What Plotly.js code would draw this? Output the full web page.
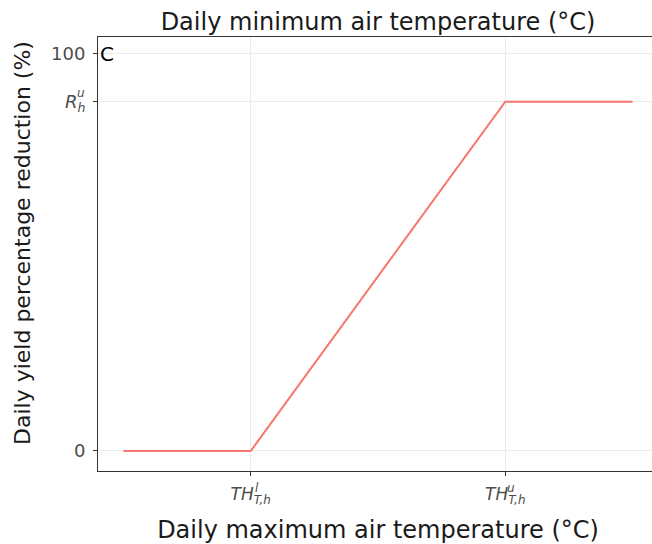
<!DOCTYPE html>
<html>
<head>
<meta charset="utf-8">
<script src="https://cdn.plot.ly/plotly-3.0.1.min.js"></script>
<style>
html,body{margin:0;padding:0;overflow:hidden;background:#fff;}
#chart{width:662px;height:544px;}
</style>
</head>
<body>
<div id="chart"></div>
<script>
// ---- data ----
var tempMax = [5, 10, 20, 25];          // daily maximum air temperature (arbitrary units)
var yieldReduction = [0, 0, 88, 88];    // daily yield percentage reduction (%)
var xTickVals = [10, 20];
var xTickBase = ["TH", "TH"];
var xTickSub = ["T,h", "T,h"];
var xTickSup = ["l", "u"];
var yTickVals = [0, 88, 100];
var yTickBase = ["0", "R", "100"];
var yTickSub = ["", "h", ""];
var yTickSup = ["", "u", ""];
var panelLabel = "C";
var xTitle = "Daily maximum air temperature (°C)";
var yTitle = "Daily yield percentage reduction (%)";
var topTitle = "Daily minimum air temperature (°C)";

var tickColor = "#4d4d4d";
var font = "DejaVu Sans";

var xTickText = xTickBase.map(function (b, i) { return "<i>" + b + "<sub>" + xTickSub[i] + "</sub></i>"; });
var yTickText = yTickBase.map(function (b, i) { return yTickSub[i] ? "<i>" + b + "<sub>" + yTickSub[i] + "</sub></i>" : b; });

var annotations = [];
xTickVals.forEach(function (v, i) {
  annotations.push({
    x: v, xref: "x", y: 0, yref: "paper", xanchor: "center", yanchor: "middle",
    text: "<i>" + xTickSup[i] + "</i>", showarrow: false,
    xshift: 6, yshift: -17, borderpad: 0,
    font: {family: font, size: 12, color: tickColor}
  });
});
yTickVals.forEach(function (v, i) {
  if (!yTickSup[i]) return;
  annotations.push({
    x: 0, xref: "paper", y: v, yref: "y", xanchor: "center", yanchor: "middle",
    text: "<i>" + yTickSup[i] + "</i>", showarrow: false,
    xshift: -17, yshift: 9, borderpad: 0,
    font: {family: font, size: 12, color: tickColor}
  });
});
annotations.push({
  x: 0, xref: "paper", y: 100, yref: "y", xanchor: "left", yanchor: "middle",
  text: panelLabel, showarrow: false, xshift: 0,
  font: {family: font, size: 20, color: "#000"}
});
annotations.push({
  x: 0, xref: "paper", y: (471 - 243) / 434, yref: "paper", xanchor: "center", yanchor: "middle",
  xshift: -76, text: yTitle, textangle: -90, showarrow: false,
  font: {family: font, size: 22, color: "#1a1a1a"}
});

var trace = {
  x: tempMax, y: yieldReduction, type: "scatter", mode: "lines",
  line: {color: "#F8766D", width: 2}, hoverinfo: "skip"
};

var layout = {
  width: 662, height: 544,
  margin: {l: 98, r: 4, t: 37, b: 73},
  paper_bgcolor: "#fff", plot_bgcolor: "#fff",
  showlegend: false,
  font: {family: font, color: tickColor},
  title: {
    text: topTitle,
    x: 0.5, xref: "paper", y: 1 - 22 / 544, yanchor: "middle",
    font: {family: font, size: 24, color: "#1a1a1a"}
  },
  xaxis: {
    range: [4, 26], tickmode: "array", tickvals: xTickVals, ticktext: xTickText,
    showgrid: true, gridcolor: "#ebebeb", gridwidth: 1, zeroline: false,
    showline: true, mirror: true, linecolor: "#333", linewidth: 1,
    ticks: "outside", ticklen: 4, tickcolor: "#333", tickwidth: 1,
    ticklabelstandoff: 4,
    tickfont: {family: font, size: 17, color: tickColor},
    title: {text: xTitle, standoff: 17,
      font: {family: font, size: 24, color: "#1a1a1a"}}
  },
  yaxis: {
    range: [-5.04, 104.28], tickmode: "array", tickvals: yTickVals, ticktext: yTickText,
    showgrid: true, gridcolor: "#ebebeb", gridwidth: 1, zeroline: false,
    showline: true, mirror: true, linecolor: "#333", linewidth: 1,
    ticks: "outside", ticklen: 4, tickcolor: "#333", tickwidth: 1,
    ticklabelstandoff: 4,
    tickfont: {family: font, size: 18, color: tickColor}
  },
  annotations: annotations
};

Plotly.newPlot("chart", [trace], layout, {displayModeBar: false, staticPlot: true});
</script>
</body>
</html>
